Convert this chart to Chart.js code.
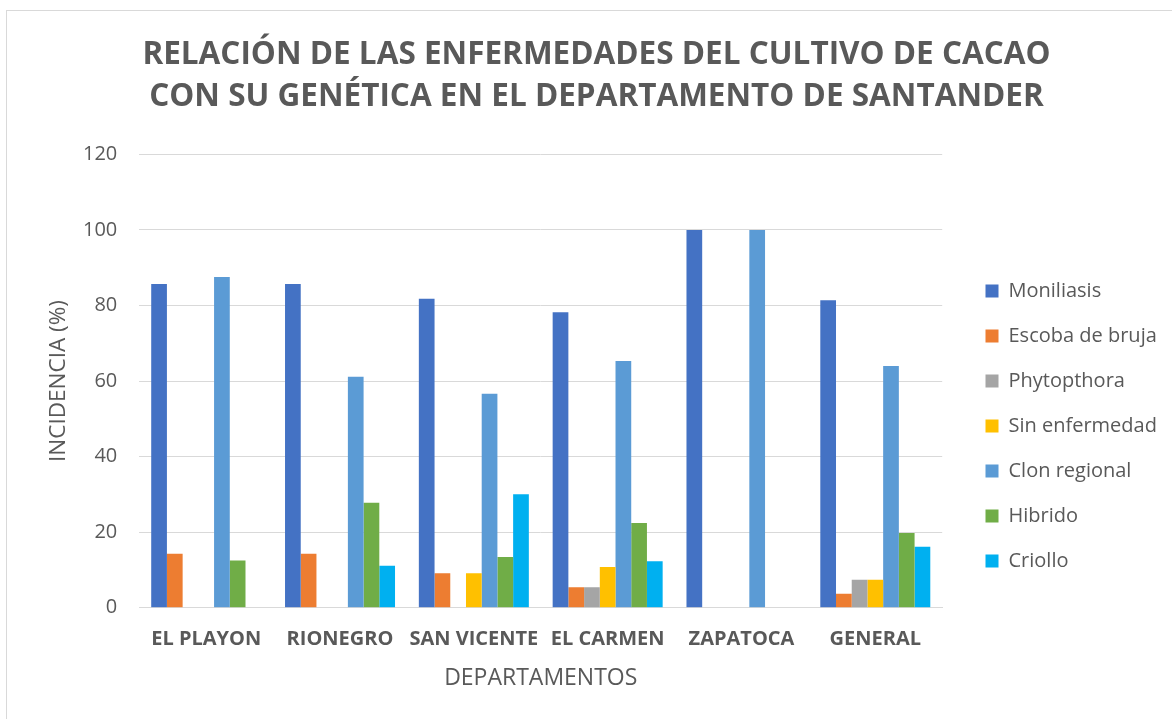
<!DOCTYPE html>
<html>
<head>
<meta charset="utf-8">
<script src="https://cdn.jsdelivr.net/npm/chart.js@4"></script>
<style>
  html, body { margin: 0; padding: 0; background: #ffffff; overflow: hidden; width: 1172px; height: 719px; }
  #frame { position: absolute; left: 6px; top: 10px; width: 1200px; height: 720px; border: 1px solid #d9d9d9; box-sizing: border-box; }
  #c { position: absolute; left: 7px; top: 10px; }
</style>
</head>
<body>
<div id="frame"></div>
<canvas id="c" width="1179" height="709"></canvas>
<script>
const categories = ['EL PLAYON', 'RIONEGRO', 'SAN VICENTE', 'EL CARMEN', 'ZAPATOCA', 'GENERAL'];
const seriesNames = ['Moniliasis', 'Escoba de bruja', 'Phytopthora', 'Sin enfermedad', 'Clon regional', 'Hibrido', 'Criollo'];
const moniliasis   = [85.7, 85.7, 81.8, 78.2, 100, 81.4];
const escobaBruja  = [14.3, 14.3, 9.1, 5.4, 0, 3.7];
const phytopthora  = [0, 0, 0, 5.4, 0, 7.4];
const sinEnfermedad = [0, 0, 9.1, 10.8, 0, 7.4];
const clonRegional = [87.5, 61.1, 56.6, 65.3, 100, 64.0];
const hibrido      = [12.5, 27.8, 13.4, 22.4, 0, 19.8];
const criollo      = [0, 11.1, 30.0, 12.3, 0, 16.1];
const yTicks = [0, 20, 40, 60, 80, 100, 120];
const colors = ['#4472C4', '#ED7D31', '#A5A5A5', '#FFC000', '#5B9BD5', '#70AD47', '#00B0F0'];
const seriesValues = [moniliasis, escobaBruja, phytopthora, sinEnfermedad, clonRegional, hibrido, criollo];

const FONT = "'Open Sans', 'DejaVu Sans', sans-serif";
const GREY = '#595959';

const legendShift = {
  id: 'legendShift',
  afterInit(chart) {
    const lg = chart.legend;
    if (!lg) return;
    const orig = lg.fit.bind(lg);
    lg.fit = function () { orig(); this.width += 29; };
  }
};

new Chart(document.getElementById('c'), {
  type: 'bar',
  data: {
    labels: categories,
    datasets: seriesNames.map((n, i) => ({
      label: n,
      data: seriesValues[i],
      backgroundColor: colors[i],
      borderWidth: 0,
      categoryPercentage: 0.822,
      barPercentage: 1.0
    }))
  },
  options: {
    responsive: false,
    devicePixelRatio: 1,
    animation: false,
    layout: { padding: 0 },
    plugins: {
      tooltip: { enabled: false },
      title: {
        display: true,
        text: ['RELACIÓN DE LAS ENFERMEDADES DEL CULTIVO DE CACAO', 'CON SU GENÉTICA EN EL DEPARTAMENTO DE SANTANDER'],
        color: GREY,
        font: { family: FONT, size: 31.5, weight: 'bold', lineHeight: 1.324 },
        padding: { top: 24, bottom: 36.9 }
      },
      legend: {
        display: true,
        position: 'right',
        align: 'start',
        fullSize: true,
        title: { display: true, text: ' ', font: { size: 12, lineHeight: 1.2 }, padding: { top: 231.6, bottom: 0 } },
        labels: {
          boxWidth: 13,
          boxHeight: 13,
          padding: 25,
          color: GREY,
          font: { family: FONT, size: 20 }
        }
      }
    },
    scales: {
      x: {
        grid: { display: false },
        border: { display: true, color: '#d9d9d9', width: 1 },
        ticks: { color: GREY, font: { family: FONT, size: 20, weight: 'bold' }, padding: 12, maxRotation: 0, autoSkip: false },
        title: { display: true, text: 'DEPARTAMENTOS', color: GREY, font: { family: FONT, size: 23 }, padding: { top: 0, bottom: 27.2 } },
        afterFit(s) { s.height = 111.3; }
      },
      y: {
        min: 0,
        max: 120,
        afterBuildTicks(s) { s.ticks = yTicks.map(v => ({ value: v })); },
        grid: { color: '#d9d9d9', drawTicks: false, lineWidth: 1 },
        border: { display: false },
        ticks: { color: GREY, font: { family: FONT, size: 20 }, padding: 22 },
        title: { display: true, text: 'INCIDENCIA (%)', color: GREY, font: { family: FONT, size: 22.5 }, padding: { top: 38.5, bottom: 0 } },
        afterFit(s) { s.width = 132.3; }
      },
      yRight: {
        type: 'linear',
        position: 'right',
        display: true,
        grid: { display: false },
        border: { display: false },
        ticks: { display: false },
        afterFit(s) { s.width = 18.3; }
      }
    }
  },
  plugins: [legendShift]
});
</script>
</body>
</html>
